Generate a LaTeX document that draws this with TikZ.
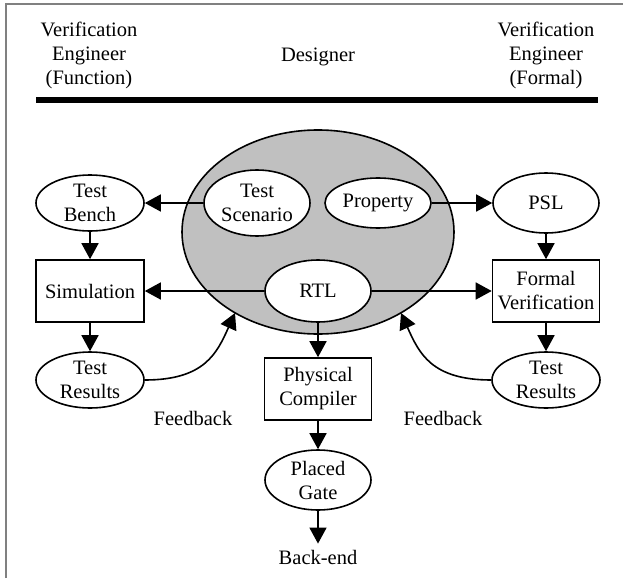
\documentclass[tikz,border=0pt]{standalone}
\usepackage{fontspec}
\setmainfont{Liberation Serif}
\usetikzlibrary{shapes.geometric,arrows.meta}
\definecolor{desfill}{RGB}{192,192,192}
\definecolor{framegray}{RGB}{128,128,128}
\begin{document}
\begin{tikzpicture}[x=1pt,y=-1pt,
  every node/.style={font=\fontsize{20.5}{24}\selectfont, align=center, inner sep=0pt},
  oval/.style={ellipse, draw, line width=1.6pt, fill=white, minimum width=106pt, minimum height=58pt},
  box/.style={rectangle, draw, line width=1.6pt, fill=white, minimum width=107pt, minimum height=62pt},
  arr/.style={line width=1.6pt, -{Triangle[length=16pt,width=17pt]}},
  txt/.style={inner sep=4pt}
]
\useasboundingbox (0,0) rectangle (623,578);
\draw[framegray, line width=1.8pt] (6,578) -- (6,4) -- (623,4);

% header
\node[txt] (vf) at (89,55) {Verification\\Engineer\\(Function)};
\node[txt] (dsg) at (318,57) {Designer};
\node[txt] (vfo) at (546,55) {Verification\\Engineer\\(Formal)};
\draw[line width=6pt] (36,100) -- (598,100);

% designer area
\node[ellipse, draw, fill=desfill, line width=1.6pt, minimum width=272pt, minimum height=204pt] (des) at (318,232) {};

\node[oval, minimum height=66pt] (ts) at (257,203) {Test\\Scenario};
\node[oval, minimum height=50pt] (prop) at (378,203) {Property};
\node[oval, minimum width=108pt, minimum height=56pt] (tb) at (90,203) {Test\\Bench};
\node[oval, minimum height=60pt] (psl) at (546,203) {PSL};
\node[box, minimum width=108pt] (sim) at (90,291) {Simulation};
\node[box] (fv) at (546,291) {Formal\\Verification};
\node[oval, minimum height=62pt] (rtl) at (318,291) {RTL};
\node[oval, minimum width=108pt, minimum height=56pt] (trl) at (90,380) {Test\\Results};
\node[oval, minimum width=108pt, minimum height=56pt] (trr) at (546,380) {Test\\Results};
\node[box] (pc) at (318,389) {Physical\\Compiler};
\node[oval, minimum height=60pt] (pg) at (318,480) {Placed\\Gate};
\node[txt, inner sep=6pt] (be) at (318,557) {Back-end};
\node[txt] (fbl) at (193,418) {Feedback};
\node[txt] (fbr) at (443,418) {Feedback};

\coordinate (fbtl) at (235,313);
\coordinate (fbtr) at (401,313);

% connectors
\draw[arr] (ts) -- (tb);
\draw[arr] (prop) -- (psl);
\draw[arr] (tb) -- (sim);
\draw[arr] (psl) -- (fv);
\draw[arr] (rtl) -- (sim);
\draw[arr] (rtl) -- (fv);
\draw[arr] (rtl) -- (pc);
\draw[arr] (sim) -- (trl);
\draw[arr] (fv) -- (trr);
\draw[arr] (pc) -- (pg);
\draw[arr] (pg) -- (be);
\draw[arr] (trl.east) .. controls +(60,0) and +(-18,40) .. (fbtl);
\draw[arr] (trr.west) .. controls +(-60,0) and +(18,40) .. (fbtr);
\end{tikzpicture}
\end{document}
